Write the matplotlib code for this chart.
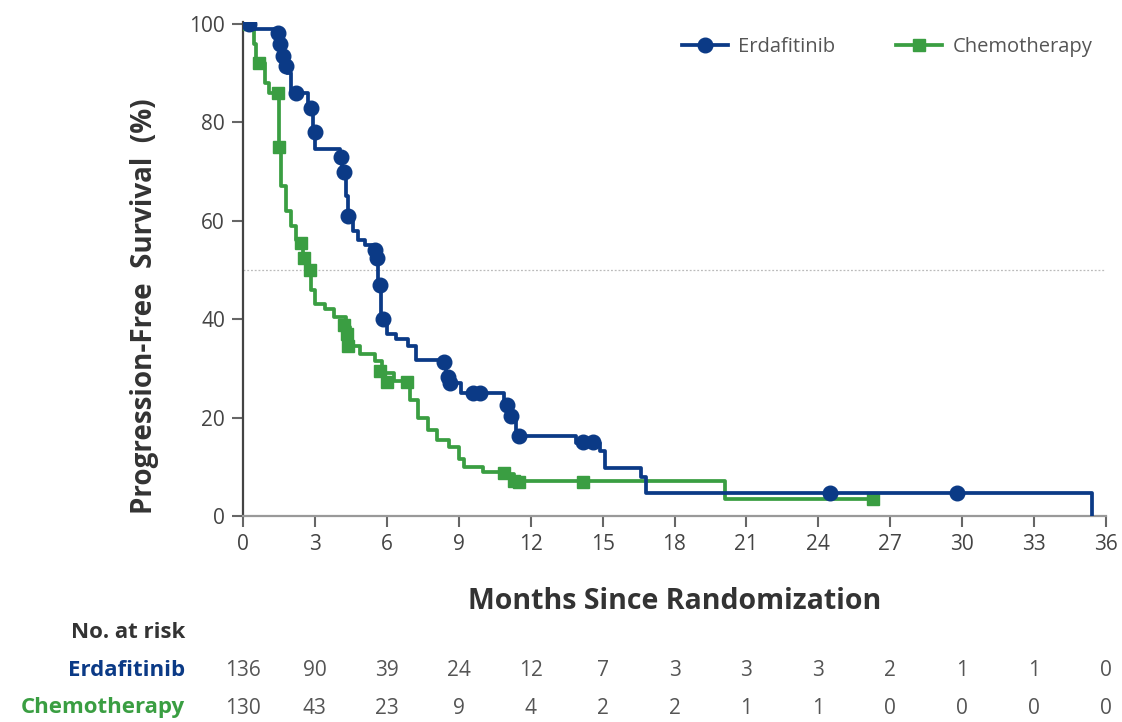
import numpy as np
import matplotlib
matplotlib.use('Agg')
from matplotlib import pyplot as plt

# step curves (months, % progression-free)
erda_t = [0, 0.35, 1.4, 1.5, 1.6, 1.7, 1.85, 2.0, 2.7, 2.9, 3.0, 4.05, 4.15, 4.3, 4.4, 4.6, 4.8, 5.1, 5.5, 5.65,
          5.75, 6.0, 6.4, 6.9, 7.2, 8.45, 8.6, 9.1, 10.9, 11.1, 11.4, 13.9, 14.9, 15.1, 16.6, 16.8, 35.4]
erda_s = [100, 99, 98, 96, 94, 92, 90, 86, 83, 78, 74.5, 73, 70, 65, 61, 58, 56, 55, 53, 47,
          40, 37, 36, 34.5, 31.8, 29, 27, 25, 23, 20.5, 16.2, 14.8, 13.3, 9.8, 8, 4.7, 0]
erda_cens_t = [0.25, 1.45, 1.55, 1.65, 1.8, 2.2, 2.85, 3.0, 4.1, 4.2, 4.4, 5.5, 5.6, 5.7, 5.85,
               8.4, 8.55, 8.65, 9.6, 9.9, 11.0, 11.2, 11.5, 14.2, 14.6, 24.5, 29.8]
erda_cens_s = [100, 98.2, 96, 93.5, 91.5, 86, 83, 78, 73, 70, 61, 54, 52.5, 47, 40,
               31.3, 28.3, 27, 25, 25, 22.5, 20.3, 16.2, 15, 15, 4.7, 4.7]

chemo_t = [0, 0.45, 0.55, 0.9, 1.1, 1.5, 1.6, 1.8, 2.0, 2.2, 2.5, 2.7, 2.85, 3.0, 3.4, 3.8, 4.3, 4.45,
           4.9, 5.5, 5.8, 6.3, 6.95, 7.3, 7.7, 8.1, 8.6, 9.0, 9.2, 10.0, 10.9, 11.3, 20.1, 26.3]
chemo_s = [100, 96, 92, 88, 86, 75, 67, 62, 59, 56, 53, 50, 46, 43, 42, 40.5, 38.5, 34.5,
           33, 31.5, 29, 27.5, 23.5, 20, 17.5, 15.5, 14, 11.5, 10, 9, 8.6, 7.2, 3.5, 3.5]
chemo_cens_t = [0.25, 0.65, 1.45, 1.5, 2.4, 2.55, 2.8, 4.2, 4.35, 4.4, 5.7, 6.0, 6.85, 10.9, 11.3, 11.5, 14.2, 26.3]
chemo_cens_s = [100, 92, 86, 75, 55.5, 52.5, 50, 38.8, 37, 34.5, 29.5, 27.3, 27.3, 8.7, 7.2, 7, 7, 3.5]

risk_times = [0, 3, 6, 9, 12, 15, 18, 21, 24, 27, 30, 33, 36]
erda_risk = [136, 90, 39, 24, 12, 7, 3, 3, 3, 2, 1, 1, 0]
chemo_risk = [130, 43, 23, 9, 4, 2, 2, 1, 1, 0, 0, 0, 0]

blue = '#0b3a86'
green = '#3a9e42'
grey = '#555555'

plt.rcParams['font.family'] = ['Open Sans', 'DejaVu Sans']

fig = plt.figure(figsize=(11.22, 7.22), dpi=100)
ax = fig.add_axes([243/1122, 1-516/722, (1106-243)/1122, (516-22)/722])

ax.axhline(50, color='#bbbbbb', lw=0.9, ls=(0, (1.5, 1.5)), zorder=1)

ax.step(chemo_t, chemo_s, where='post', color=green, lw=2.7, zorder=2)
ax.plot(chemo_cens_t, chemo_cens_s, 's', color=green, ms=8.5, zorder=3)
ax.step(erda_t, erda_s, where='post', color=blue, lw=2.7, zorder=4)
ax.plot(erda_cens_t, erda_cens_s, 'o', color=blue, ms=10.5, zorder=5)

# legend handles
ax.plot([], [], '-o', color=blue, lw=2.7, ms=10.5, label='Erdafitinib')
ax.plot([], [], '-s', color=green, lw=2.7, ms=8.5, label='Chemotherapy')
ax.legend(loc='upper right', bbox_to_anchor=(1.005, 1.006), ncol=2, frameon=False, fontsize=14.5,
          handlelength=2.3, handletextpad=0.5, columnspacing=3.0, labelcolor=grey)

ax.set_xlim(0, 36)
ax.set_ylim(0, 100.4)
ax.set_xticks(range(0, 37, 3))
ax.set_yticks(range(0, 101, 20))
ax.tick_params(direction='out', length=8, width=1.5, color='#666666', labelsize=15, labelcolor='#444444', pad=5)
for side in ['top', 'right']:
    ax.spines[side].set_visible(False)
ax.spines['left'].set_color('#444444')
ax.spines['left'].set_linewidth(1.6)
ax.spines['bottom'].set_color('#999999')
ax.spines['bottom'].set_linewidth(1.6)

ax.set_ylabel('Progression-Free  Survival  (%)', fontsize=20, fontweight='bold', color='#333333')
ax.yaxis.set_label_coords(-0.097, 0.425)
ax.set_xlabel('Months Since Randomization', fontsize=20.5, fontweight='bold', color='#333333')
ax.xaxis.set_label_coords(0.5, -0.144)

# at-risk table
num_font = ['DejaVu Sans Condensed', 'Liberation Sans Narrow', 'Open Sans']
fig.text(185/1122, 1-632/722, 'No. at risk', ha='right', va='center', fontsize=16, fontweight='bold', color='#333333')
fig.text(185/1122, 1-671/722, 'Erdafitinib', ha='right', va='center', fontsize=16, fontweight='bold', color=blue)
fig.text(185/1122, 1-708/722, 'Chemotherapy', ha='right', va='center', fontsize=16, fontweight='bold', color=green)
for t, e, c in zip(risk_times, erda_risk, chemo_risk):
    xf = ax.transData.transform((t, 0))[0] / fig.bbox.width
    fig.text(xf, 1-671/722, str(e), ha='center', va='center', fontsize=15, color=grey, family=num_font)
    fig.text(xf, 1-708/722, str(c), ha='center', va='center', fontsize=15, color=grey, family=num_font)

fig.savefig('out.png', dpi=100)
